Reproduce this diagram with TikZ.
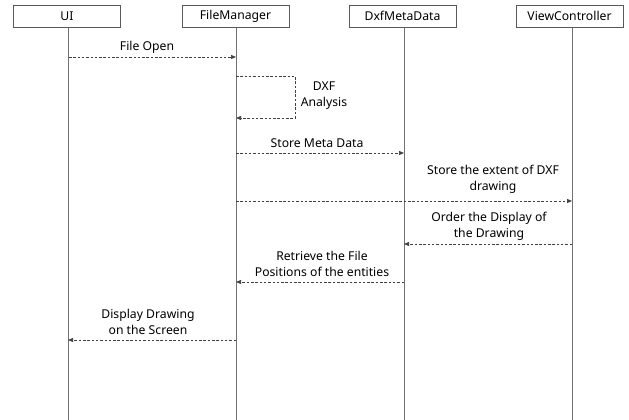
\documentclass[tikz,border=0pt]{standalone}
\usepackage{fontspec}
\setmainfont{Noto Sans}
\usetikzlibrary{arrows.meta}
\begin{document}
\begin{tikzpicture}[x=1pt,y=-1pt,
  lbl/.style={font=\fontsize{12.2}{16}\selectfont, align=center, inner sep=0pt, text=black},
  actor/.style={draw=black!65, line width=0.8pt, fill=white, minimum width=107pt, minimum height=22pt,
    inner sep=0pt, font=\fontsize{12.2}{14}\selectfont},
  life/.style={draw=black!55, line width=0.8pt},
  msg/.style={draw=black!75, line width=0.7pt, dash pattern=on 2.5pt off 1.8pt,
    -{Triangle[length=5pt,width=4pt]}}]
\useasboundingbox (0,0) rectangle (629,420);

% lifelines
\foreach \n/\x in {ui/68,fm/236,dm/404,vc/572}{
  \coordinate (\n top) at (\x,27);
  \coordinate (\n bot) at (\x,420);
  \draw[life] (\n top) -- (\n bot);
}

% participants
\node[actor] (ui) at (67,16) {UI};
\node[actor] (fm) at (235.5,16) {FileManager};
\node[actor] (dm) at (402.5,16) {DxfMetaData};
\node[actor] (vc) at (569.5,16) {ViewController};

% message anchor points on the lifelines
\coordinate (ui1) at (69,57);   \coordinate (fm1) at (236,57);
\coordinate (fm2) at (236,76);  \coordinate (fm3) at (236,118);
\coordinate (fm4) at (236,153); \coordinate (dm4) at (404,153);
\coordinate (fm5) at (236,201); \coordinate (vc5) at (572,201);
\coordinate (vc6) at (572,244); \coordinate (dm6) at (404,244);
\coordinate (dm7) at (404,282); \coordinate (fm7) at (236,282);
\coordinate (fm8) at (236,340); \coordinate (ui8) at (68,340);

% messages
\draw[msg] (ui1) -- (fm1);
\node[lbl] (l1) at (147,47) {File Open};

\draw[msg] (fm2) -- (295,76) -- (295,118) -- (fm3);
\node[lbl] (l2) at (324,96) {DXF\\Analysis};

\draw[msg] (fm4) -- (dm4);
\node[lbl] (l3) at (317,143) {Store Meta Data};

\draw[msg] (fm5) -- (vc5);
\node[lbl] (l4) at (493,179) {Store the extent of DXF\\drawing};

\draw[msg] (vc6) -- (dm6);
\node[lbl] (l5) at (489,226) {Order the Display of\\the Drawing};

\draw[msg] (dm7) -- (fm7);
\node[lbl] (l6) at (322,264) {Retrieve the File\\Positions of the entities};

\draw[msg] (fm8) -- (ui8);
\node[lbl] (l7) at (148,322) {Display Drawing\\on the Screen};
\end{tikzpicture}
\end{document}
